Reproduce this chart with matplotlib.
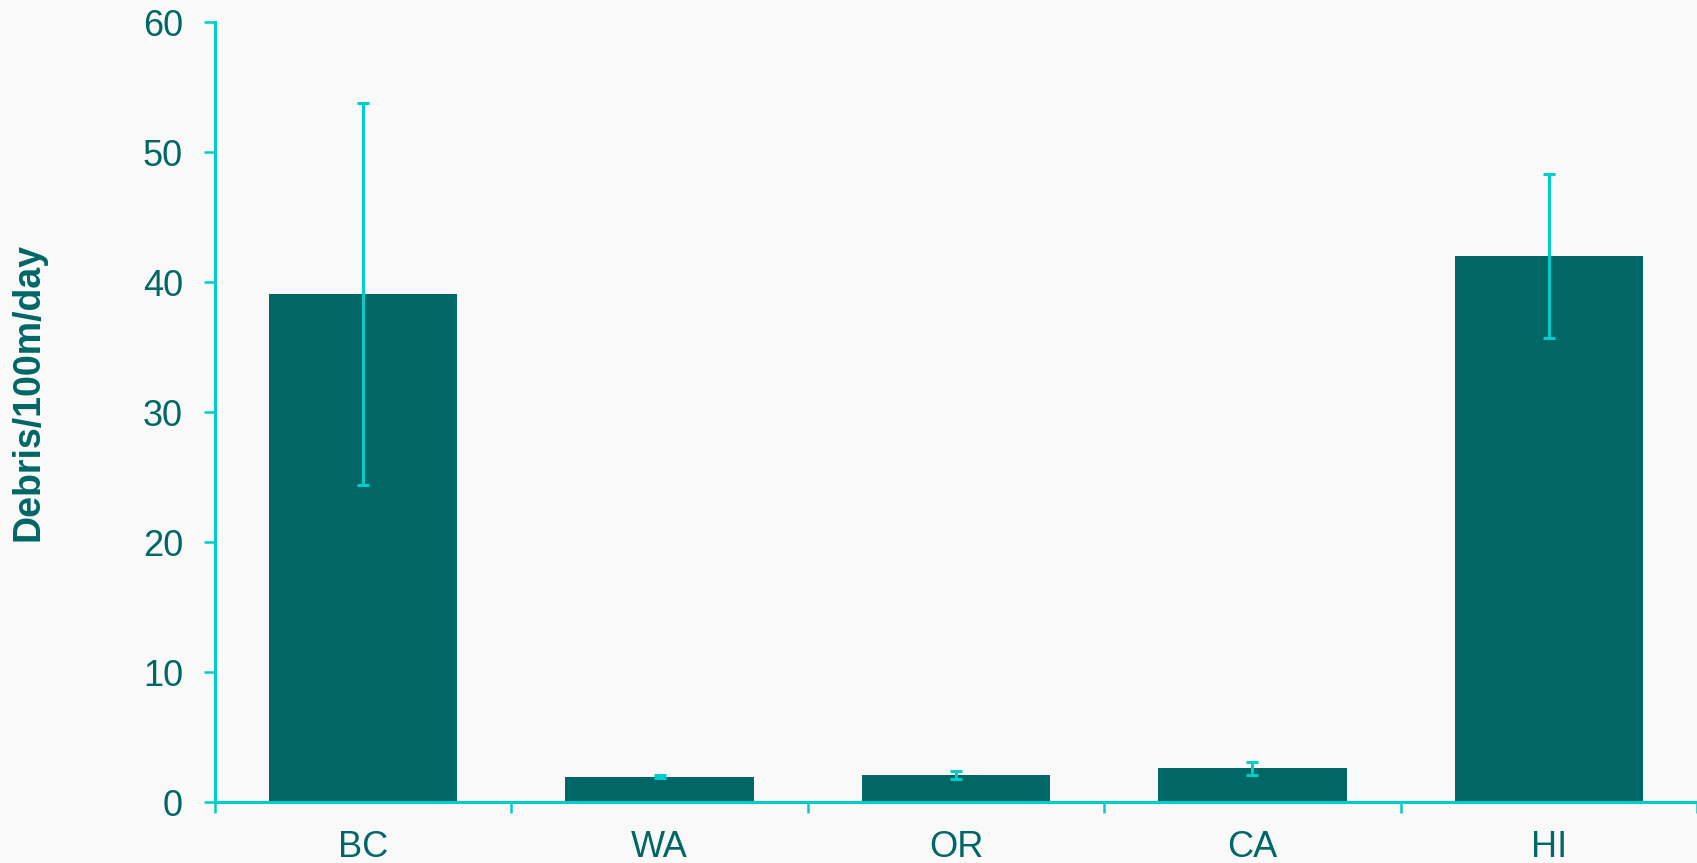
import matplotlib
matplotlib.use("Agg")
import matplotlib.pyplot as plt
from matplotlib.ticker import FixedLocator

categories = ["BC", "WA", "OR", "CA", "HI"]
values = [39.1, 1.95, 2.05, 2.6, 42.0]
errors = [14.7, 0.1, 0.3, 0.5, 6.3]
yticks = [0, 10, 20, 30, 40, 50, 60]

bg = "#F9F9F9"
bar_color = "#006666"
axis_color = "#00CCCC"
text_color = "#006666"

plt.rcParams['font.family'] = ['Liberation Sans', 'DejaVu Sans']

fig = plt.figure(figsize=(16.97, 8.63), dpi=100, facecolor=bg)
ax = fig.add_axes([215/1697, 61/863, 1482/1697, 780/863])
ax.set_facecolor(bg)

x = list(range(len(categories)))
ax.bar(x, values, width=0.635, color=bar_color, zorder=2)
ax.errorbar(x, values, yerr=errors, fmt='none', ecolor=axis_color,
            elinewidth=2.2, capsize=4.2, capthick=2.2, zorder=3)

ax.set_xlim(-0.5, len(categories) - 0.5)
ax.set_ylim(0, 60)
ax.set_yticks(yticks)
ax.set_xticks(x)
ax.set_xticklabels(categories)
ax.xaxis.set_minor_locator(FixedLocator([i - 0.5 for i in range(len(categories) + 1)]))

for s in ['top', 'right']:
    ax.spines[s].set_visible(False)
for s in ['left', 'bottom']:
    ax.spines[s].set_color(axis_color)
    ax.spines[s].set_linewidth(2.2)

ax.tick_params(axis='y', direction='out', length=8, width=1.8, color=axis_color,
               labelcolor=text_color, labelsize=26, pad=15)
ax.tick_params(axis='x', which='major', length=0, labelcolor=text_color,
               labelsize=26, pad=20)
ax.tick_params(axis='x', which='minor', direction='out', length=8, width=1.8,
               color=axis_color)

ax.set_ylabel("Debris/100m/day", fontsize=27, fontweight='bold', color=text_color)
ax.yaxis.set_label_coords(-0.114, 0.526)

fig.savefig("out.png", dpi=100, facecolor=bg)
